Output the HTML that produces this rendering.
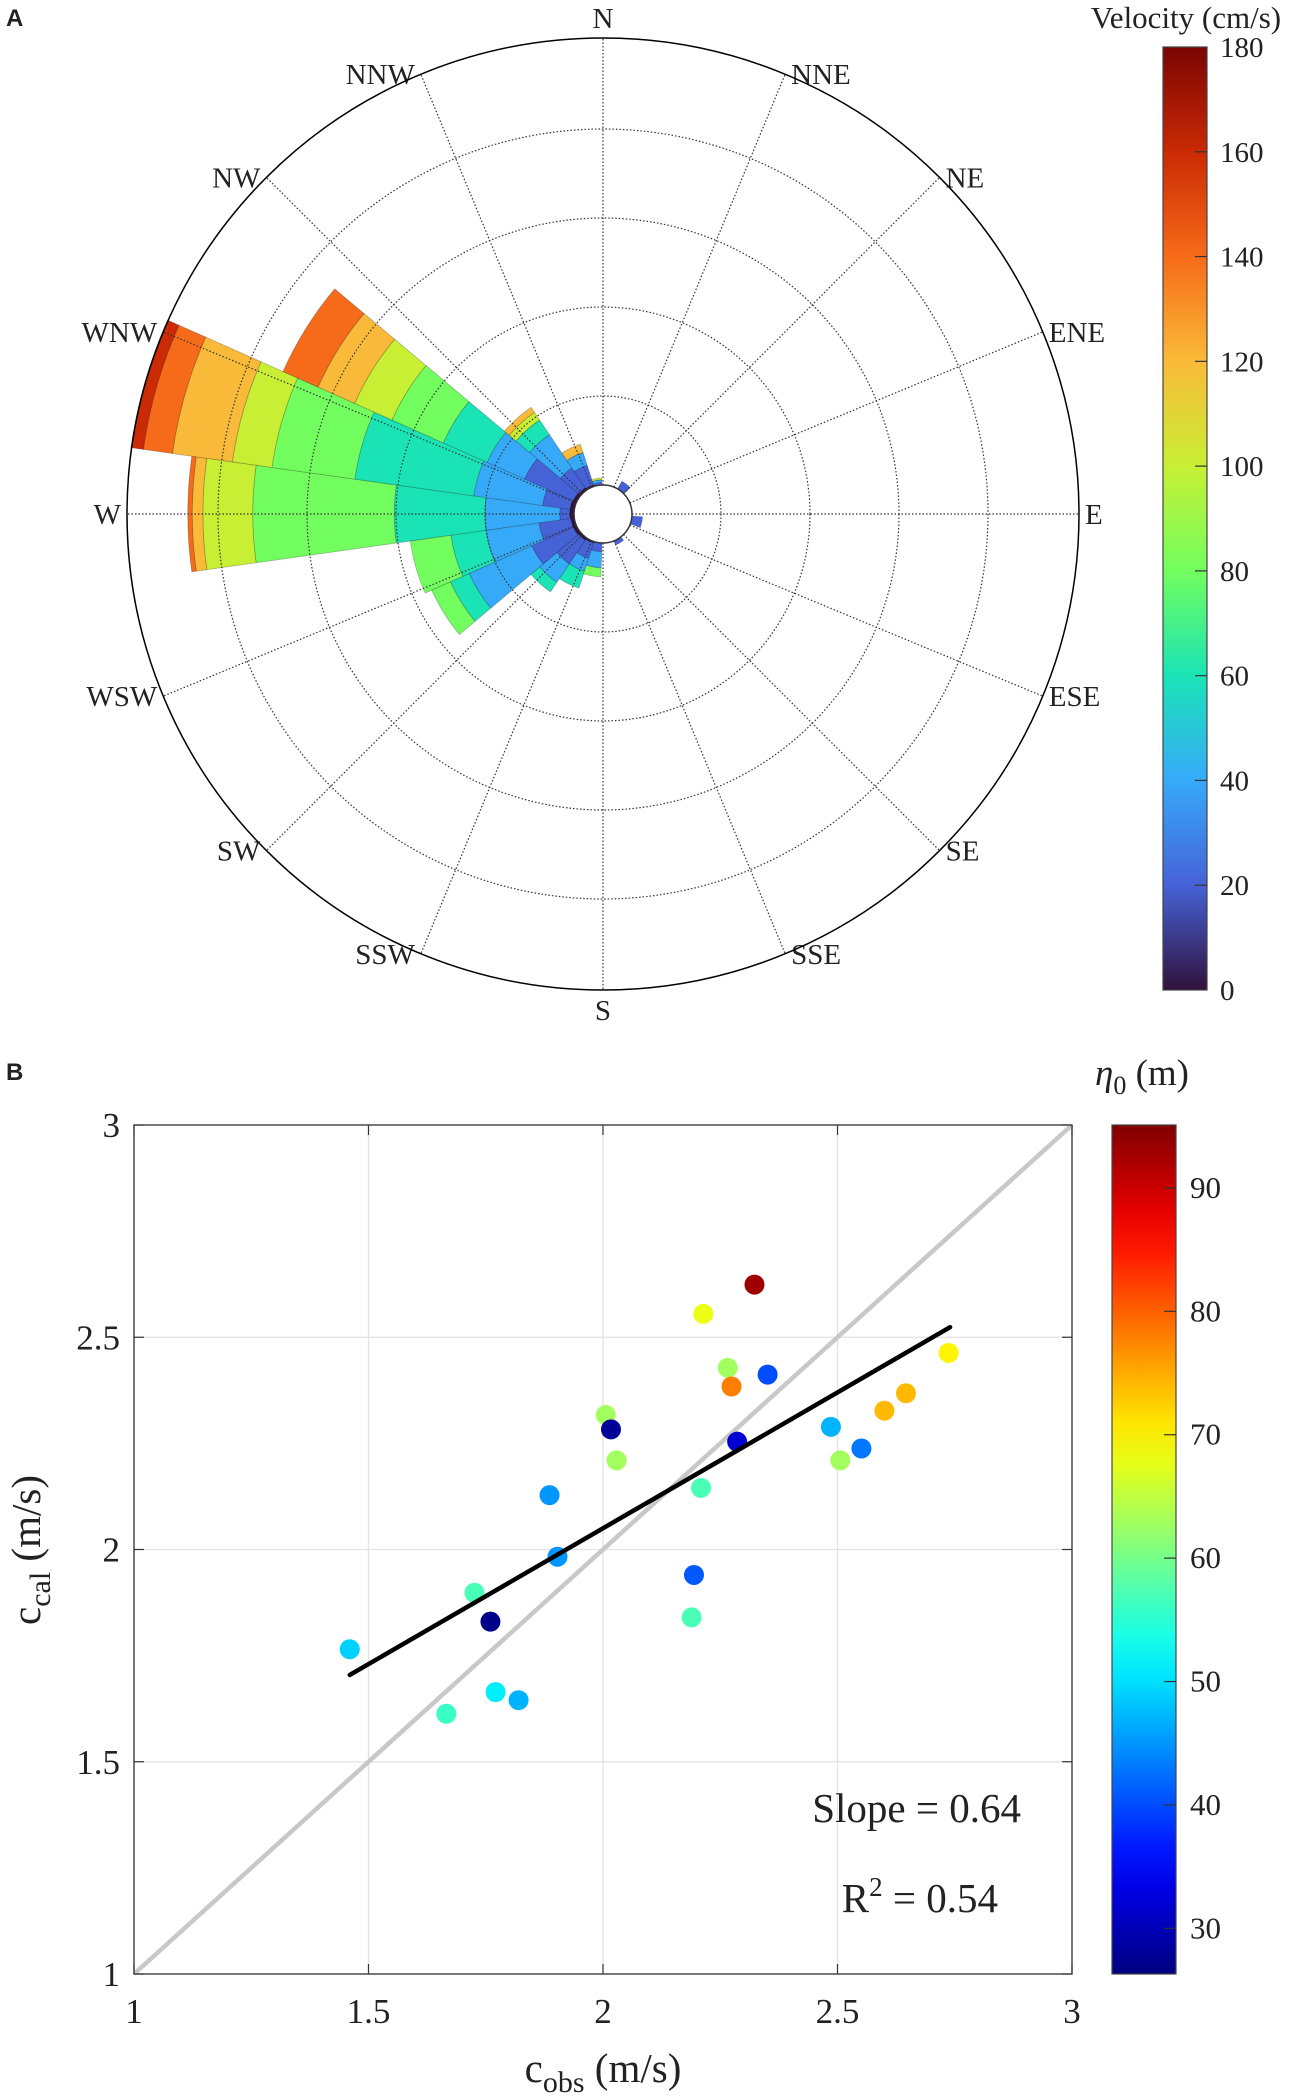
<!DOCTYPE html>
<html><head><meta charset="utf-8">
<style>
html,body{margin:0;padding:0;background:#fff;}
svg{display:block;font-family:"Liberation Serif","Times New Roman",serif;}
svg text{font-family:"Liberation Serif","Times New Roman",serif;fill:#222;}
svg text.pl{font-family:"Liberation Sans",Arial,sans-serif;font-weight:bold;}
</style></head>
<body>
<svg id="fig" width="1297" height="2100" viewBox="0 0 1297 2100" xmlns="http://www.w3.org/2000/svg" font-family="Liberation Serif, serif">
<defs>
<linearGradient id="turbo" x1="0" y1="1" x2="0" y2="0"></linearGradient>
<linearGradient id="jet" x1="0" y1="1" x2="0" y2="0"></linearGradient>
</defs>
<g id="rose"></g>
<g id="scatter"></g>
</svg>
<script>
// ---------- Panel A data ----------
const roseDirections = [0,16,32,48,64,80,128,192,240,-16,-32,-48,-64,-80];
const roseBin0 = [0.05,0.05,0.04,0.03,0.02,0,0,0,0,0.04,0.04,0.03,0.02,0];
const roseBin1 = [0.11,0.31,0.60,0.27,0.23,0.03,0.10,0.12,0.05,0.36,0.51,0.32,0.18,0.10];
const roseBin2 = [0.84,0.78,0.46,0.45,0.15,0.03,0,0,0,0.60,0.77,0.25,0.15,0.18];
const roseBin3 = [1.02,1.35,0.54,0.20,0,0,0,0,0,0.40,0.23,0.13,0.20,0];
const roseBin4 = [1.59,0.94,0.63,0,0,0,0,0,0,0.46,0.23,0,0,0.10];
const roseBin5 = [0.56,0.45,0.46,0.10,0,0.02,0,0,0,0,0,0,0,0];
const roseBin6 = [0.12,0.68,0.45,0.07,0.10,0,0,0,0,0,0,0,0,0];
const roseBin7 = [0.05,0.33,0.43,0,0,0,0,0,0,0,0,0,0,0];
const roseBin8 = [0,0.14,0,0,0,0,0,0,0,0,0,0,0,0];
const compassLabels = ["N","NNE","NE","ENE","E","ESE","SE","SSE","S","SSW","SW","WSW","W","WNW","NW","NNW"];
const velocityTicks = [0,20,40,60,80,100,120,140,160,180];
const turboStops = ["#30123b","#4662d7","#36aaf9","#1ae4b6","#72fe5e","#c8ef34","#faba39","#f66b19","#ca2a04","#7a0403"];

// ---------- Panel B data ----------
const cObs = [1.46,1.726,1.76,1.666,1.771,1.82,1.886,1.903,2.006,2.017,2.029,2.189,2.194,2.209,2.214,2.266,2.274,2.286,2.323,2.351,2.486,2.506,2.551,2.60,2.646,2.737];
const cCal = [1.765,1.898,1.83,1.613,1.664,1.645,2.128,1.983,2.317,2.283,2.21,1.84,1.94,2.145,2.555,2.428,2.384,2.254,2.624,2.412,2.289,2.21,2.238,2.327,2.368,2.463];
const eta0 = [49,57,27,56,51,47,45,45,63,28,63,57,41,57,68,63,78,32,93,40,47,63,43,74,74,70];
const xTicks = [1,1.5,2,2.5,3];
const yTicks = [1,1.5,2,2.5,3];
const etaTicks = [30,40,50,60,70,80,90];
const fitSlope = 0.64, fitIntercept = 0.77, fitX = [1.46,2.74];

const NS="http://www.w3.org/2000/svg";
const SERIF="Liberation Serif, Times New Roman, serif";
function mk(parent,tag,attrs,txt){const e=document.createElementNS(NS,tag);for(const k in attrs)e.setAttribute(k,attrs[k]);if(tag==='text'&&!attrs['class'])e.setAttribute('font-family',SERIF);if(txt!==undefined)e.textContent=txt;parent.appendChild(e);return e;}

// ===== Panel A =====
const rose=document.getElementById('rose');
const cx=603, cy=514, R=476, hole=29, unit=89;
const rScale=v=>hole+v*unit;
const dirVec=a=>{const r=a*Math.PI/180;return [-Math.cos(r),-Math.sin(r)];};
function wedge(a,r0,r1){
  const a0=a-8,a1=a+8;
  const p=(ang,r)=>{const d=dirVec(ang);return (cx+d[0]*r).toFixed(2)+","+(cy+d[1]*r).toFixed(2);};
  return "M"+p(a0,r0)+" L"+p(a0,r1)+" A"+r1+","+r1+" 0 0 1 "+p(a1,r1)+" L"+p(a1,r0)+" A"+r0+","+r0+" 0 0 0 "+p(a0,r0)+" Z";
}
const bins=[roseBin0,roseBin1,roseBin2,roseBin3,roseBin4,roseBin5,roseBin6,roseBin7,roseBin8];
roseDirections.forEach((a,i)=>{
  let cum=0;
  bins.forEach((b,k)=>{
    const v=b[i]; if(!v) return;
    const path=mk(rose,'path',{d:wedge(a,rScale(cum),rScale(cum+v)),fill:turboStops[k],stroke:'rgba(0,0,0,0.25)','stroke-width':0.8});
    
    
    cum+=v;
  });
});
for(let i=1;i<=4;i++){
  const c=mk(rose,'circle',{cx:cx,cy:cy,r:rScale(i),fill:'none',stroke:'#333','stroke-width':1.2,'stroke-dasharray':'1.5 2'});
  
  
}
compassLabels.forEach((lab,i)=>{
  const ang=i*22.5*Math.PI/180;
  const dx=Math.sin(ang), dy=-Math.cos(ang);
  const l=mk(rose,'line',{x1:cx+dx*hole,y1:cy+dy*hole,x2:cx+dx*R,y2:cy+dy*R,stroke:'#333','stroke-width':1.2,'stroke-dasharray':'1.5 2'});
  
  
  const side=Math.abs(dx)>0.01;
  const anchor = dx<-0.01?'end':(dx>0.01?'start':'middle');
  const rr=side?R:R+8;
  const x=cx+dx*rr+(dx<-0.01?-6:(dx>0.01?6:0));
  const y=cy+dy*rr+(side?0:dy*12)+10;
  const t=mk(rose,'text',{x:x,y:y,'text-anchor':anchor,'font-size':29},lab);
  
  
});
const oc=mk(rose,'circle',{cx:cx,cy:cy,r:R,fill:'none',stroke:'#000','stroke-width':1.5});


const hc=mk(rose,'circle',{cx:cx,cy:cy,r:hole,fill:'#fff',stroke:'#333','stroke-width':1.5});


const pa=mk(rose,'text',{x:6,y:26,'font-size':24,class:'pl','font-family':'Liberation Sans, Arial, sans-serif','font-weight':'bold'},'A');


const tg=document.getElementById('turbo');
turboStops.forEach((c,i)=>{mk(tg,'stop',{offset:(i/(turboStops.length-1)),'stop-color':c});});
const cbTop=47, cbBot=990, cbX=1163, cbW=44;
const vY=v=>cbBot-(v/180)*(cbBot-cbTop);
const cbA=mk(rose,'rect',{x:cbX,y:cbTop,width:cbW,height:cbBot-cbTop,fill:'url(#turbo)',stroke:'#444','stroke-width':1.2});


velocityTicks.forEach(v=>{
  const y=vY(v);
  if(v>0&&v<180) mk(rose,'line',{x1:cbX+cbW-12,y1:y,x2:cbX+cbW,y2:y,stroke:'#333','stroke-width':1.2});
  const t=mk(rose,'text',{x:1220,y:y+10,'font-size':29},String(v));
  
  
});
const ta=mk(rose,'text',{x:1186,y:28,'text-anchor':'middle','font-size':31},'Velocity (cm/s)');



// ===== Panel B =====
const sc=document.getElementById('scatter');
const X0=134,X1=1072,Y0=1974,Y1=1125;
const xS=v=>X0+(v-1)/2*(X1-X0);
const yS=v=>Y0-(v-1)/2*(Y0-Y1);
const eMin=26.3,eMax=95.1;
function jet(v){const t=Math.max(0,Math.min(1,(v-eMin)/(eMax-eMin)));const f=x=>Math.round(255*Math.max(0,Math.min(1,1.5-Math.abs(x))));return `rgb(${f(4*t-3)},${f(4*t-2)},${f(4*t-1)})`;}
mk(sc,'rect',{x:X0,y:Y1,width:X1-X0,height:Y0-Y1,fill:'#fff'});
xTicks.forEach(v=>{
  const x=xS(v);
  const g=mk(sc,'line',{x1:x,y1:Y1,x2:x,y2:Y0,stroke:'#e3e3e3','stroke-width':1.3});
  
  
  mk(sc,'line',{x1:x,y1:Y0,x2:x,y2:Y0-10,stroke:'#333','stroke-width':1.2});
  mk(sc,'line',{x1:x,y1:Y1,x2:x,y2:Y1+10,stroke:'#333','stroke-width':1.2});
  const t=mk(sc,'text',{x:x,y:2023,'text-anchor':'middle','font-size':35},String(v));
  
  
});
yTicks.forEach(v=>{
  const y=yS(v);
  const g=mk(sc,'line',{x1:X0,y1:y,x2:X1,y2:y,stroke:'#e3e3e3','stroke-width':1.3});
  
  
  mk(sc,'line',{x1:X0,y1:y,x2:X0+10,y2:y,stroke:'#333','stroke-width':1.2});
  mk(sc,'line',{x1:X1,y1:y,x2:X1-10,y2:y,stroke:'#333','stroke-width':1.2});
  const t=mk(sc,'text',{x:X0-14,y:y+12,'text-anchor':'end','font-size':35},String(v));
  
  
});
const one=mk(sc,'line',{x1:xS(1),y1:yS(1),x2:xS(3),y2:yS(3),stroke:'#c8c8c8','stroke-width':4.5});


cObs.forEach((x,i)=>{
  const c=mk(sc,'circle',{cx:xS(x),cy:yS(cCal[i]),r:10,fill:jet(eta0[i])});
  
  
});
const fit=mk(sc,'line',{x1:xS(fitX[0]),y1:yS(fitSlope*fitX[0]+fitIntercept),x2:xS(fitX[1]),y2:yS(fitSlope*fitX[1]+fitIntercept),stroke:'#000','stroke-width':4.5,'stroke-linecap':'round'});


const box=mk(sc,'rect',{x:X0,y:Y1,width:X1-X0,height:Y0-Y1,fill:'none',stroke:'#333','stroke-width':1.3});


const s1=mk(sc,'text',{x:1021,y:1822,'text-anchor':'end','font-size':41},'Slope = 0.64');


const s2=mk(sc,'text',{x:998,y:1912,'text-anchor':'end','font-size':41});
s2.innerHTML='R<tspan dy="-16" font-size="27">2</tspan><tspan dy="16"> = 0.54</tspan>';


const xl=mk(sc,'text',{x:603,y:2082,'text-anchor':'middle','font-size':41});
xl.innerHTML='c<tspan dy="10" font-size="30">obs</tspan><tspan dy="-10"> (m/s)</tspan>';


const yl=mk(sc,'text',{x:0,y:0,'text-anchor':'middle','font-size':41,transform:'translate(40,1550) rotate(-90)'});
yl.innerHTML='c<tspan dy="10" font-size="30">cal</tspan><tspan dy="-10"> (m/s)</tspan>';


const pb=mk(sc,'text',{x:6,y:1080,'font-size':24,class:'pl','font-family':'Liberation Sans, Arial, sans-serif','font-weight':'bold'},'B');


const jg=document.getElementById('jet');
for(let i=0;i<=20;i++){const v=eMin+(eMax-eMin)*i/20;mk(jg,'stop',{offset:i/20,'stop-color':jet(v)});}
const bX=1112,bW=64;
const eY=v=>Y0-(v-eMin)/(eMax-eMin)*(Y0-Y1);
const cbB=mk(sc,'rect',{x:bX,y:Y1,width:bW,height:Y0-Y1,fill:'url(#jet)',stroke:'#444','stroke-width':1.2});


etaTicks.forEach(v=>{
  const y=eY(v);
  mk(sc,'line',{x1:bX+bW-12,y1:y,x2:bX+bW,y2:y,stroke:'#333','stroke-width':1.2});
  const t=mk(sc,'text',{x:1190,y:y+10,'font-size':31},String(v));
  
  
});
const tb=mk(sc,'text',{x:1142,y:1085,'text-anchor':'middle','font-size':37});
tb.innerHTML='<tspan font-style="italic">η</tspan><tspan dy="9" font-size="26">0</tspan><tspan dy="-9"> (m)</tspan>';


</script>
</body></html>
